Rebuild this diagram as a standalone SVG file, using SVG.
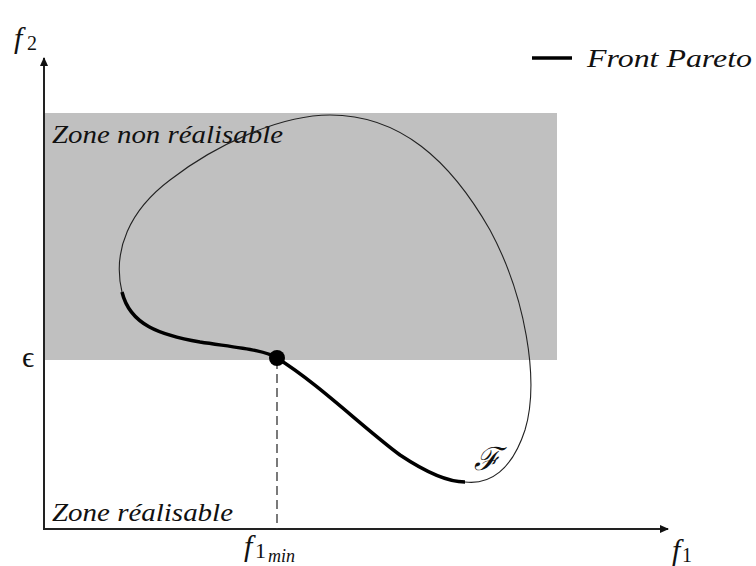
<svg xmlns="http://www.w3.org/2000/svg" width="756" height="566" viewBox="0 0 756 566">
<style>
.t{font-family:"Liberation Serif","DejaVu Serif",serif;font-style:italic;fill:#111}
.r{font-family:"Liberation Serif","DejaVu Serif",serif;fill:#111}
.axis{stroke:#222;stroke-width:2;fill:none}
</style>
<defs>
<marker id="ah" markerWidth="10" markerHeight="10" refX="8" refY="5" orient="auto" markerUnits="userSpaceOnUse">
<path d="M0,1 L9,5 L0,9 Z" fill="#111"/>
</marker>
</defs>
<rect width="756" height="566" fill="#fff"/>
<g id="zone-non-realisable">
<rect x="44" y="113" width="513" height="247" fill="#c0c0c0"/>
<text class="t" x="52" y="143" font-size="25" textLength="231" lengthAdjust="spacingAndGlyphs">Zone non réalisable</text>
</g>
<g id="axes">
<line class="axis" x1="44" y1="529" x2="44" y2="58" marker-end="url(#ah)"/>
<line class="axis" x1="43" y1="529" x2="668" y2="529" marker-end="url(#ah)"/>
</g>
<g id="connectors">
<line x1="277" y1="360" x2="277" y2="529" stroke="#333" stroke-width="1.3" stroke-dasharray="9,5"/>
<path d="M122,292 C112,250 130,210 170,180 C215,145 280,115 330,115 C400,115 450,160 490,230 C525,295 540,380 525,430 C512,470 490,485 465,482" fill="none" stroke="#222" stroke-width="1.1"/>
<path d="M122,292 C130,325 160,335 200,342 C240,348 265,350 277,358 C320,385 360,425 400,455 C430,475 450,482 465,482" fill="none" stroke="#000" stroke-width="3.5"/>
</g>
<g id="point">
<circle cx="277" cy="358" r="8" fill="#000"/>
</g>
<g id="labels">
<text class="t" x="14" y="48" font-size="30">f</text>
<text class="r" x="27" y="50" font-size="20">2</text>
<text class="r" x="22" y="367" font-size="30">ϵ</text>
<text class="t" x="672" y="560" font-size="30">f</text>
<text class="r" x="682" y="562" font-size="20">1</text>
<text class="t" x="244" y="556" font-size="30">f</text>
<text class="r" x="255" y="558" font-size="22">1</text>
<text class="t" x="268" y="562" font-size="18">min</text>
<text class="t" x="474" y="470" font-size="32">ℱ</text>
<text class="t" x="52" y="521" font-size="25" textLength="181" lengthAdjust="spacingAndGlyphs">Zone réalisable</text>
</g>
<g id="legend">
<line x1="532" y1="58" x2="572" y2="58" stroke="#000" stroke-width="3.5"/>
<text class="t" x="587" y="67" font-size="25" textLength="165" lengthAdjust="spacingAndGlyphs">Front Pareto</text>
</g>
</svg>
